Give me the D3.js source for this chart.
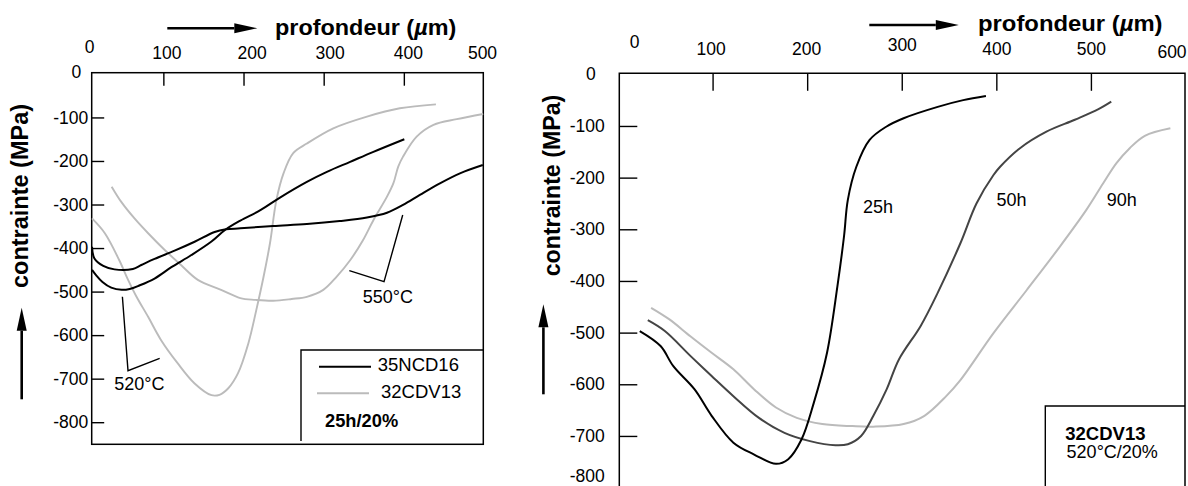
<!DOCTYPE html>
<html>
<head>
<meta charset="utf-8">
<script src="https://cdn.jsdelivr.net/npm/d3@7"></script>
<style>
  body { margin: 0; background: #fff; }
  svg { display: block; font-family: "Liberation Sans", Arial, Helvetica, sans-serif; }
</style>
</head>
<body>
<svg id="fig" width="1188" height="486"></svg>
<script>
// ---------- data: depth (µm), residual stress (MPa) ----------
// left panel: 35NCD16 vs 32CDV13, 25 h nitriding, 20 %
const depthTicksL  = [0, 100, 200, 300, 400, 500];
const stressTicksL = [0, -100, -200, -300, -400, -500, -600, -700, -800];

const ncd16_520 = [[11,-450],[16,-462],[24,-478],[35,-491],[48,-496],[58,-494],[70,-486],[89,-470],
  [110,-444],[135,-416],[160,-385],[176.5,-359],[196,-337],[221,-313],[245.5,-284],[279,-248],
  [304,-225],[333,-202],[362,-179],[400.6,-150]];
const ncd16_550 = [[11,-397],[14,-424],[25,-441],[39,-449],[62,-448],[72.5,-439],[89,-425],[114,-406],
  [139,-385.5],[164,-363],[178,-357],[196,-354.7],[237,-349.4],[279,-344.8],[320,-338],[354,-330],
  [379,-319],[399,-301],[420,-278],[445,-251.4],[470,-228.4],[498.5,-209.3]];
const cdv13_520 = [[11,-332],[27,-366],[45,-428],[56,-473],[66,-510],[81,-558],[97,-611],[118,-665],
  [139,-711],[160,-738],[170,-737],[181,-722],[193,-688],[206,-619],[216,-542],[225,-466],[233,-389],
  [241,-290],[250,-228],[262,-182],[279,-160],[312,-125],[354,-98],[395,-79],[440,-70]];
const cdv13_550 = [[35.5,-259],[47.5,-294],[64,-332],[81,-366],[102,-405],[122,-439],[143,-473],
  [172,-496],[196,-515],[215,-519],[237,-521],[260,-517],[279,-512],[299.5,-496],[316,-466],
  [333,-428],[349,-382],[362,-336],[379,-282],[387,-251],[393,-213],[399,-190],[416,-144],
  [437,-117],[466,-104],[499,-92]];
const legendNamesL = ["35NCD16", "32CDV13"];
const legendNoteL  = "25h/20%";
const tempLabels   = ["520°C", "550°C"];

// right panel: 32CDV13, 520 °C / 20 %, three nitriding times
const depthTicksR  = [0, 100, 200, 300, 400, 500, 600];
const stressTicksR = [0, -100, -200, -300, -400, -500, -600, -700, -800];

const cdv13_25h = [[23,-497],[45,-526],[58.5,-565],[81,-610],[99,-661],[122,-713],[144,-736],
  [167,-754],[180,-745],[194,-707],[207,-636],[221,-539],[232,-410],[239,-313],[243,-243],
  [252,-179],[266,-127],[284,-101],[302,-85],[338,-63],[365,-50],[389,-42]];
const cdv13_50h = [[31.5,-476],[49.5,-497],[76.5,-545],[99,-584],[122,-623],[149,-665],[176,-694],
  [203,-710],[230,-718],[243,-716],[257,-700],[270,-661],[284,-610],[297,-552],[320,-487],
  [338,-423],[362,-327],[379,-250],[397,-195],[404,-179],[425,-143],[453,-111],[483,-88],
  [507.5,-68],[521.5,-53]];
const cdv13_90h = [[35,-452],[54,-474],[76.5,-507],[99,-539],[122,-571],[144,-610],[167,-645],
  [189,-665],[216,-677],[248,-681],[270,-682],[302,-677],[324,-661],[347,-623],[362,-592],
  [397,-501],[432,-418],[467,-334],[495,-263],[513,-211],[527,-172],[541,-143],[557,-119],
  [584,-104.5]];
const timeLabels  = ["25h", "50h", "90h"];
const legendTitleR = "32CDV13";
const legendNoteR  = "520°C/20%";

const xTitle = "profondeur (";
const yTitle = "contrainte (MPa)";

// ---------- drawing ----------
const svg = d3.select("#fig");
const FONT = '"Liberation Sans", Arial, Helvetica, sans-serif';
const BLACK = "#000", DARK = "#444", LIGHT = "#bbb";
const plain = d => String(d);   // ASCII hyphen for negative values

function arrow(g, x1, y1, x2, y2) {
  const len = Math.hypot(x2 - x1, y2 - y1), ux = (x2 - x1) / len, uy = (y2 - y1) / len;
  const hl = 23, hw = 5;
  const bx = x2 - ux * hl, by = y2 - uy * hl;
  g.append("line").attr("x1", x1).attr("y1", y1).attr("x2", bx).attr("y2", by)
    .attr("stroke", BLACK).attr("stroke-width", 2.6);
  g.append("path")
    .attr("d", `M${x2},${y2}L${bx - uy * hw},${by + ux * hw}L${bx + uy * hw},${by - ux * hw}Z`)
    .attr("fill", BLACK);
}

function styleAxis(g, size, hideVals, nudge) {
  g.attr("font-family", FONT).attr("font-size", size);
  g.select(".domain").remove();
  g.selectAll(".tick line").attr("stroke", BLACK).attr("stroke-width", 1.4)
    .attr("display", d => hideVals.includes(d) ? "none" : null);
  g.selectAll(".tick text").attr("fill", BLACK)
    .attr("transform", d => nudge[d] ? `translate(${nudge[d][0]},${nudge[d][1]})` : null);
}

function titleX(g, x, y, size, sx) {
  const t = g.append("text").attr("font-weight", "bold").attr("font-size", size)
    .attr("transform", `translate(${x},${y}) scale(${sx},1)`);
  t.append("tspan").text(xTitle);
  t.append("tspan").attr("font-style", "italic").text("µ");
  t.append("tspan").text("m)");
}

function titleY(g, x, y, size) {
  g.append("text").attr("font-weight", "bold").attr("font-size", size)
    .attr("text-anchor", "middle")
    .attr("transform", `translate(${x},${y}) rotate(-90)`).text(yTitle);
}

const lineOf = (x, y) => d3.line().x(d => x(d[0])).y(d => y(d[1]))
  .curve(d3.curveCatmullRom.alpha(0.5));

// ===== left panel =====
{
  const g = svg.append("g");
  const x = d3.scaleLinear().domain([0, 500]).range([83.2, 484]);
  const y = d3.scaleLinear().domain([0, -800]).range([73.9, 422.2]);
  const F = { l: 91.7, r: 483.3, t: 72.7, b: 444.3 };

  g.append("rect").attr("x", F.l).attr("y", F.t).attr("width", F.r - F.l).attr("height", F.b - F.t)
    .attr("fill", "none").attr("stroke", BLACK).attr("stroke-width", 1.5);

  const ax = g.append("g").attr("transform", `translate(0,${F.t})`)
    .call(d3.axisTop(x).tickValues(depthTicksL).tickFormat(plain)
      .tickSizeInner(-13).tickSizeOuter(0).tickPadding(13.7));
  styleAxis(ax, 17.5, [0, 500], { 0: [6, -6], 100: [3, 0], 200: [8, 0], 300: [6, 0], 400: [4, 0], 500: [-2, 0] });

  const ay = g.append("g").attr("transform", `translate(${F.l},0)`)
    .call(d3.axisLeft(y).tickValues(stressTicksL).tickFormat(plain)
      .tickSizeInner(-12.5).tickSizeOuter(0).tickPadding(3.5));
  styleAxis(ay, 17.5, [0], { 0: [-7, -2] });

  const line = lineOf(x, y);
  [[cdv13_520, LIGHT], [cdv13_550, LIGHT], [ncd16_520, BLACK], [ncd16_550, BLACK]].forEach(([d, c]) => {
    g.append("path").attr("d", line(d)).attr("fill", "none").attr("stroke", c)
      .attr("stroke-width", c === BLACK ? 2 : 1.9).attr("stroke-linejoin", "round");
  });

  // temperature call-outs
  const callout = (pts, label, at) => {
    g.append("path").attr("d", d3.line()(pts.map(p => [x(p[0]), y(p[1])])))
      .attr("fill", "none").attr("stroke", BLACK).attr("stroke-width", 1.4);
    g.append("text").attr("x", x(at[0])).attr("y", y(at[1])).attr("font-size", 18).text(label);
  };
  callout([[48.9, -511.8], [55.9, -681.7], [95.4, -653.3]], tempLabels[0], [38.8, -726]);
  callout([[398.6, -324], [375.3, -477.3], [332, -452]], tempLabels[1], [348.7, -527]);

  // legend box
  g.append("path").attr("d", `M${F.r},350H301V441`).attr("fill", "none")
    .attr("stroke", BLACK).attr("stroke-width", 1.4);
  [[BLACK, 319, 371, 366.7, 377.7, 371], [LIGHT, 317, 369, 393.3, 381, 398]].forEach((s, i) => {
    g.append("line").attr("x1", s[1]).attr("x2", s[2]).attr("y1", s[3]).attr("y2", s[3])
      .attr("stroke", s[0]).attr("stroke-width", 2);
    g.append("text").attr("x", s[4]).attr("y", s[5]).attr("font-size", 18.5).text(legendNamesL[i]);
  });
  g.append("text").attr("x", 325).attr("y", 426.7).attr("font-size", 18.3)
    .attr("font-weight", "bold").text(legendNoteL);

  arrow(g, 167.3, 28.3, 257.3, 28.3);
  arrow(g, 21.7, 399.3, 21.7, 307.7);
  titleX(g, 275, 35, 21.5, 1.09);
  titleY(g, 28.4, 196, 23.5);
}

// ===== right panel =====
{
  const g = svg.append("g");
  const x = d3.scaleLinear().domain([0, 600]).range([618, 1185.5]);
  const y = d3.scaleLinear().domain([0, -800]).range([74.3, 487.6]);
  const F = { l: 619.3, r: 1185, t: 73.3, b: 520 };

  g.append("path").attr("d", `M${F.l},${F.b}V${F.t}H${F.r}V${F.b}`)
    .attr("fill", "none").attr("stroke", BLACK).attr("stroke-width", 1.5);

  const ax = g.append("g").attr("transform", `translate(0,${F.t})`)
    .call(d3.axisTop(x).tickValues(depthTicksR).tickFormat(plain)
      .tickSizeInner(-17.5).tickSizeOuter(0).tickPadding(18.3));
  styleAxis(ax, 17.5, [0, 600], { 0: [16, -7], 100: [-2, 0], 200: [-1, 0], 300: [0, -4], 600: [-14, 3] });

  const ay = g.append("g").attr("transform", `translate(${F.l},0)`)
    .call(d3.axisLeft(y).tickValues(stressTicksR).tickFormat(plain)
      .tickSizeInner(-18).tickSizeOuter(0).tickPadding(14.5));
  // the lowest label sits at the page edge: lift it so it stays readable
  styleAxis(ay, 17.5, [0], { 0: [-9, 0], [-800]: [0, -12] });

  const line = lineOf(x, y);
  const series = [[cdv13_90h, LIGHT], [cdv13_50h, DARK], [cdv13_25h, BLACK]];
  series.forEach(([d, c]) => {
    g.append("path").attr("d", line(d)).attr("fill", "none").attr("stroke", c)
      .attr("stroke-width", 2).attr("stroke-linejoin", "round");
  });

  // time labels beside each profile
  const labelAt = [[259, -269], [400.2, -254], [516.7, -254.3]];
  timeLabels.forEach((t, i) => {
    g.append("text").attr("x", x(labelAt[i][0])).attr("y", y(labelAt[i][1]))
      .attr("font-size", 18).text(t);
  });

  // legend box
  g.append("path").attr("d", `M${F.r},406H1045.3V${F.b}`).attr("fill", "none")
    .attr("stroke", BLACK).attr("stroke-width", 1.4);
  g.append("text").attr("x", 1065.3).attr("y", 440).attr("font-size", 18.5)
    .attr("font-weight", "bold").text(legendTitleR);
  g.append("text").attr("x", 1066.6).attr("y", 457.7).attr("font-size", 18).text(legendNoteR);

  arrow(g, 869.3, 25, 958.8, 25);
  arrow(g, 543.4, 394.3, 543.4, 304.3);
  titleX(g, 978, 30.5, 22.5, 1.06);
  titleY(g, 559.8, 185.5, 23.2);
}
</script>
</body>
</html>
